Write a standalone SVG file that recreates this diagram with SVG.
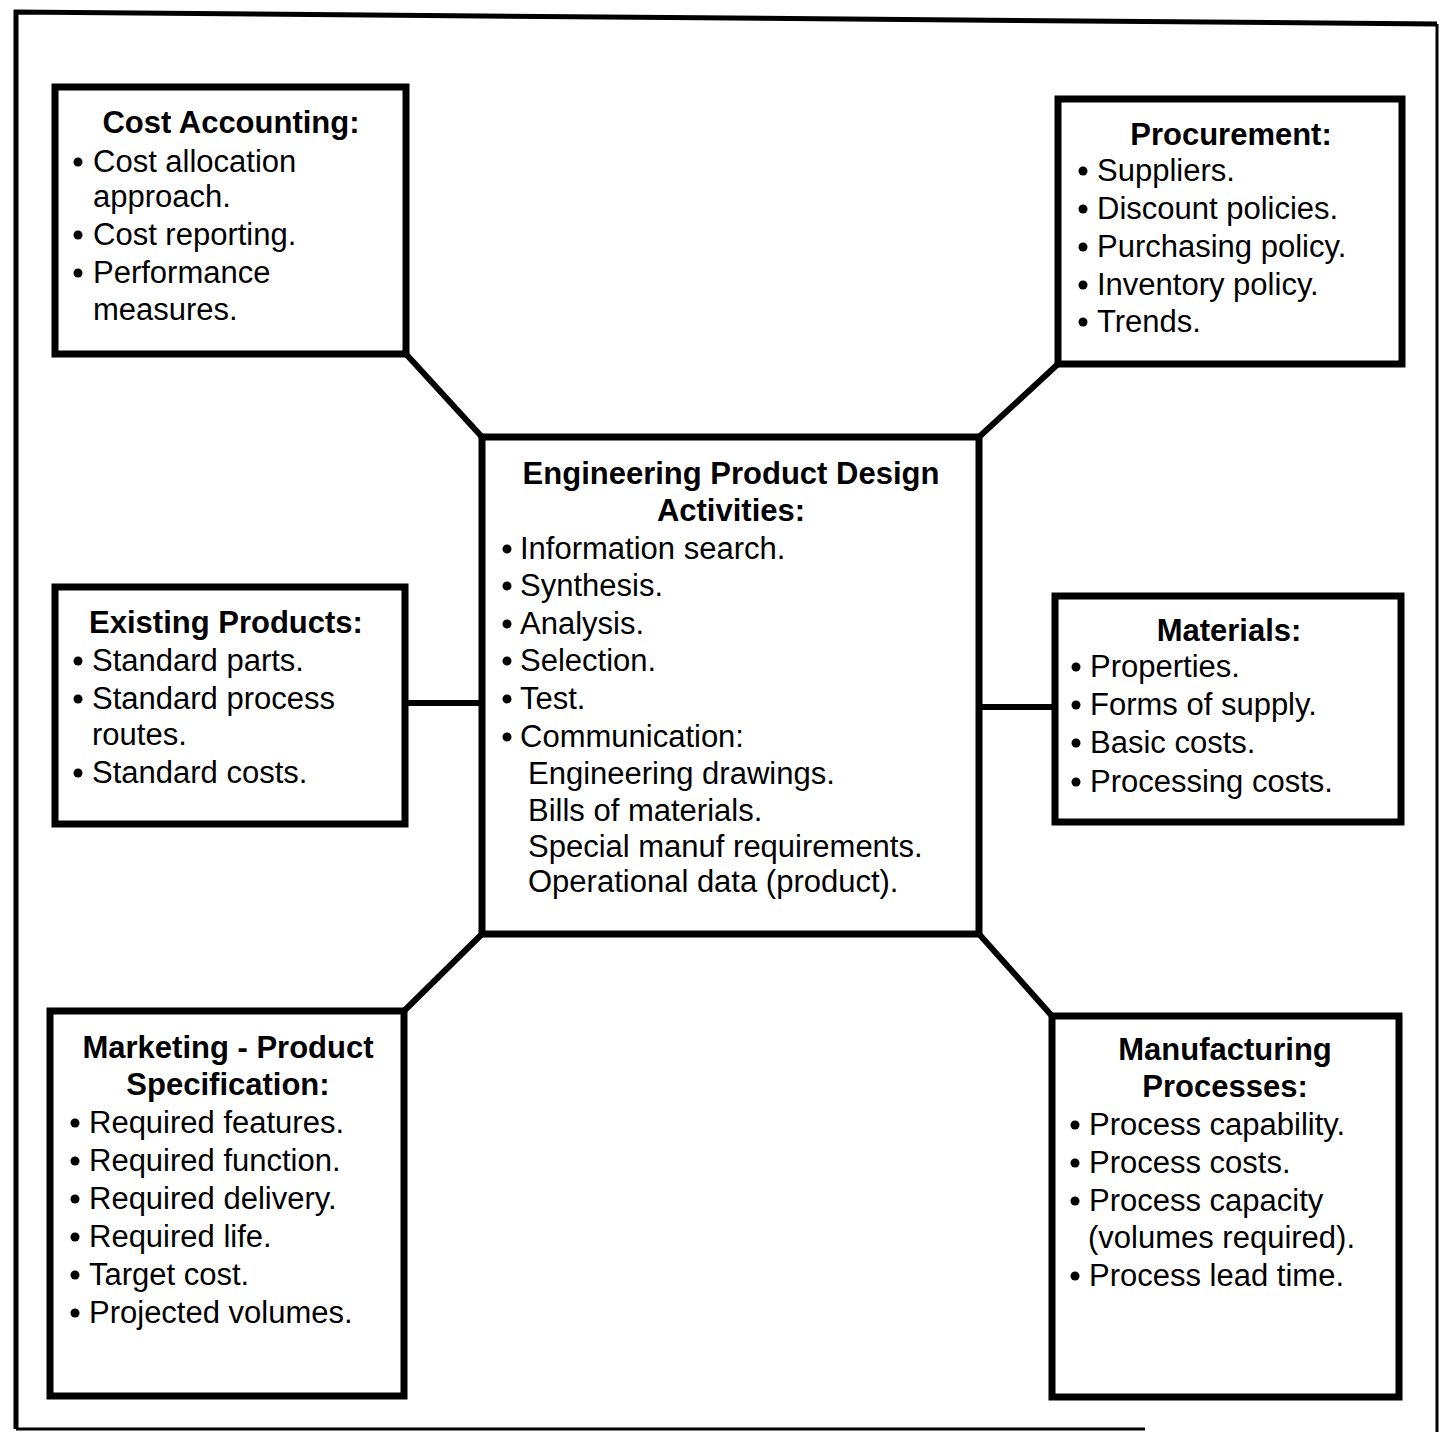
<svg xmlns="http://www.w3.org/2000/svg" width="1442" height="1432" viewBox="0 0 1442 1432">
<style>
.frame{fill:none;stroke:#000;stroke-width:5}
.box{fill:#fff;stroke:#000;stroke-width:7}
.con{fill:none;stroke:#000;stroke-width:6}
.t{font-family:"Liberation Sans",Arial,Helvetica,sans-serif;font-size:31px;fill:#000}
.h{font-weight:bold;text-anchor:middle}
.b{fill:#000}
</style>
<rect width="1442" height="1432" fill="#fff"/>
<g id="frame">
<path class="frame" d="M16,1429 L16,12 L1437,24"/>
<path class="frame" style="stroke-width:3" d="M1437,24 L1437,1432"/>
<path class="frame" style="stroke-width:3" d="M16,1429 L1145,1429"/>
</g>
<g id="connectors">
<line class="con" x1="406" y1="354" x2="482" y2="437"/>
<line class="con" x1="1058" y1="364" x2="979" y2="437"/>
<line class="con" x1="405" y1="703" x2="482" y2="703"/>
<line class="con" x1="1055" y1="707" x2="979" y2="707"/>
<line class="con" x1="404" y1="1011" x2="482" y2="934"/>
<line class="con" x1="1052" y1="1016" x2="979" y2="934"/>
</g>
<g id="cost-accounting">
<rect class="box" x="55" y="87" width="351" height="267"/>
<text class="t h" x="231" y="133">Cost Accounting:</text>
<circle class="b" cx="78" cy="162" r="4.5"/>
<text class="t" x="93" y="172">Cost allocation</text>
<text class="t" x="93" y="207">approach.</text>
<circle class="b" cx="78" cy="235" r="4.5"/>
<text class="t" x="93" y="245">Cost reporting.</text>
<circle class="b" cx="78" cy="273" r="4.5"/>
<text class="t" x="93" y="283">Performance</text>
<text class="t" x="93" y="320">measures.</text>
</g>
<g id="procurement">
<rect class="box" x="1058" y="99" width="344" height="265"/>
<text class="t h" x="1231" y="145">Procurement:</text>
<circle class="b" cx="1083" cy="171" r="4.5"/>
<text class="t" x="1097" y="181">Suppliers.</text>
<circle class="b" cx="1083" cy="209" r="4.5"/>
<text class="t" x="1097" y="219">Discount policies.</text>
<circle class="b" cx="1083" cy="247" r="4.5"/>
<text class="t" x="1097" y="257">Purchasing policy.</text>
<circle class="b" cx="1083" cy="285" r="4.5"/>
<text class="t" x="1097" y="295">Inventory policy.</text>
<circle class="b" cx="1083" cy="322" r="4.5"/>
<text class="t" x="1097" y="332">Trends.</text>
</g>
<g id="engineering-design">
<rect class="box" x="482" y="437" width="497" height="497"/>
<text class="t h" x="731" y="484">Engineering Product Design</text>
<text class="t h" x="731" y="521">Activities:</text>
<circle class="b" cx="507" cy="549" r="4.5"/>
<text class="t" x="520" y="559">Information search.</text>
<circle class="b" cx="507" cy="586" r="4.5"/>
<text class="t" x="520" y="596">Synthesis.</text>
<circle class="b" cx="507" cy="624" r="4.5"/>
<text class="t" x="520" y="634">Analysis.</text>
<circle class="b" cx="507" cy="661" r="4.5"/>
<text class="t" x="520" y="671">Selection.</text>
<circle class="b" cx="507" cy="699" r="4.5"/>
<text class="t" x="520" y="709">Test.</text>
<circle class="b" cx="507" cy="737" r="4.5"/>
<text class="t" x="520" y="747">Communication:</text>
<text class="t" x="528" y="784">Engineering drawings.</text>
<text class="t" x="528" y="821">Bills of materials.</text>
<text class="t" x="528" y="857">Special manuf requirements.</text>
<text class="t" x="528" y="892">Operational data (product).</text>
</g>
<g id="existing-products">
<rect class="box" x="55" y="587" width="350" height="237"/>
<text class="t h" x="226" y="633">Existing Products:</text>
<circle class="b" cx="78" cy="661" r="4.5"/>
<text class="t" x="92" y="671">Standard parts.</text>
<circle class="b" cx="78" cy="699" r="4.5"/>
<text class="t" x="92" y="709">Standard process</text>
<text class="t" x="92" y="745">routes.</text>
<circle class="b" cx="78" cy="773" r="4.5"/>
<text class="t" x="92" y="783">Standard costs.</text>
</g>
<g id="materials">
<rect class="box" x="1055" y="596" width="346" height="226"/>
<text class="t h" x="1229" y="641">Materials:</text>
<circle class="b" cx="1076" cy="667" r="4.5"/>
<text class="t" x="1090" y="677">Properties.</text>
<circle class="b" cx="1076" cy="705" r="4.5"/>
<text class="t" x="1090" y="715">Forms of supply.</text>
<circle class="b" cx="1076" cy="743" r="4.5"/>
<text class="t" x="1090" y="753">Basic costs.</text>
<circle class="b" cx="1076" cy="782" r="4.5"/>
<text class="t" x="1090" y="792">Processing costs.</text>
</g>
<g id="marketing">
<rect class="box" x="50" y="1011" width="354" height="385"/>
<text class="t h" x="228" y="1058">Marketing - Product</text>
<text class="t h" x="228" y="1095">Specification:</text>
<circle class="b" cx="75" cy="1123" r="4.5"/>
<text class="t" x="89" y="1133">Required features.</text>
<circle class="b" cx="75" cy="1161" r="4.5"/>
<text class="t" x="89" y="1171">Required function.</text>
<circle class="b" cx="75" cy="1199" r="4.5"/>
<text class="t" x="89" y="1209">Required delivery.</text>
<circle class="b" cx="75" cy="1237" r="4.5"/>
<text class="t" x="89" y="1247">Required life.</text>
<circle class="b" cx="75" cy="1275" r="4.5"/>
<text class="t" x="89" y="1285">Target cost.</text>
<circle class="b" cx="75" cy="1313" r="4.5"/>
<text class="t" x="89" y="1323">Projected volumes.</text>
</g>
<g id="manufacturing">
<rect class="box" x="1052" y="1016" width="347" height="381"/>
<text class="t h" x="1225" y="1060">Manufacturing</text>
<text class="t h" x="1225" y="1097">Processes:</text>
<circle class="b" cx="1075" cy="1125" r="4.5"/>
<text class="t" x="1089" y="1135">Process capability.</text>
<circle class="b" cx="1075" cy="1163" r="4.5"/>
<text class="t" x="1089" y="1173">Process costs.</text>
<circle class="b" cx="1075" cy="1201" r="4.5"/>
<text class="t" x="1089" y="1211">Process capacity</text>
<text class="t" x="1088" y="1248">(volumes required).</text>
<circle class="b" cx="1075" cy="1276" r="4.5"/>
<text class="t" x="1089" y="1286">Process lead time.</text>
</g>
</svg>
